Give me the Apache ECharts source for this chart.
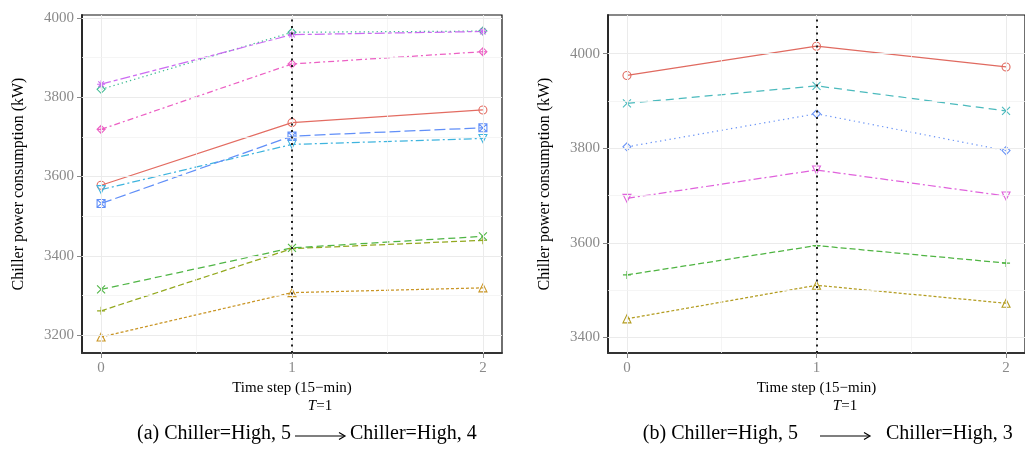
<!DOCTYPE html>
<html>
<head>
<meta charset="utf-8">
<script src="https://cdn.jsdelivr.net/npm/echarts@6/dist/echarts.min.js"></script>
<style>
  html, body { margin: 0; padding: 0; background: #fff; }
  #chart { width: 1025px; height: 452px; }
</style>
</head>
<body>
<div id="chart"></div>
<script>
// Time steps (15-min)
const timeSteps = [0, 1, 2];

// Panel (a): Chiller=High, 5 -> Chiller=High, 4
const seriesA1 = [3578, 3736, 3768];
const seriesA2 = [3195, 3307, 3319];
const seriesA3 = [3261, 3418, 3439];
const seriesA4 = [3315, 3420, 3449];
const seriesA5 = [3820, 3964, 3967];
const seriesA6 = [3567, 3681, 3696];
const seriesA7 = [3532, 3702, 3723];
const seriesA8 = [3833, 3958, 3966];
const seriesA9 = [3719, 3884, 3915];

// Panel (b): Chiller=High, 5 -> Chiller=High, 3
const seriesB1 = [3954, 4016, 3972];
const seriesB2 = [3439, 3510, 3472];
const seriesB3 = [3532, 3594, 3557];
const seriesB4 = [3895, 3932, 3879];
const seriesB5 = [3803, 3873, 3795];
const seriesB6 = [3694, 3754, 3699];

// Tick labels
const xTicks = [0, 1, 2];
const yTicksA = [3200, 3400, 3600, 3800, 4000];
const yTicksB = [3400, 3600, 3800, 4000];
// Minor grid positions
const xMinor = [0.5, 1.5];
const yMinorA = [3300, 3500, 3700, 3900];
const yMinorB = [3500, 3700, 3900];
// Transition time step
const transitionStep = 1;

// Marker outlines
const SYM = {
  circle: 'path://M0 5A5 5 0 1 0 10 5A5 5 0 1 0 0 5Z',
  triangle: 'path://M5 0L10 8.66L0 8.66Z',
  triangleDown: 'path://M0 0L10 0L5 8.66Z',
  plus: 'path://M0 5H10M5 0V10',
  cross: 'path://M0 0L10 10M10 0L0 10',
  diamond: 'path://M5 0L10 5L5 10L0 5Z',
  squareCross: 'path://M0 0H10V10H0ZM0 0L10 10M10 0L0 10',
  asterisk: 'path://M0 5H10M5 0V10M1.5 1.5L8.5 8.5M8.5 1.5L1.5 8.5',
  diamondPlus: 'path://M5 0L10 5L5 10L0 5ZM5 0V10M0 5H10'
};

const FONT = '"Liberation Serif", "DejaVu Serif", serif';

function lineSeries(values, gridIndex, color, symbol, dash) {
  return {
    type: 'line',
    xAxisIndex: gridIndex,
    yAxisIndex: gridIndex,
    data: timeSteps.map((t, i) => [t, values[i]]),
    symbol: symbol,
    symbolSize: 8,
    showSymbol: true,
    lineStyle: { color: color, width: 1.25, type: dash },
    itemStyle: { color: 'rgba(0,0,0,0)', borderColor: color, borderWidth: 1.1 },
    emphasis: { disabled: true },
    z: 3
  };
}

function gridHelper(gridIndex, yMajor, yMinor) {
  const major = { color: '#ebebeb', width: 1, type: 'solid' };
  const minor = { color: '#f3f3f3', width: 0.8, type: 'solid' };
  const data = [];
  xTicks.forEach(v => data.push({ xAxis: v, lineStyle: major }));
  xMinor.forEach(v => data.push({ xAxis: v, lineStyle: minor }));
  yMajor.forEach(v => data.push({ yAxis: v, lineStyle: major }));
  yMinor.forEach(v => data.push({ yAxis: v, lineStyle: minor }));
  return {
    type: 'line', xAxisIndex: gridIndex, yAxisIndex: gridIndex, data: [],
    z: 1, silent: true,
    markLine: { silent: true, symbol: 'none', label: { show: false }, animation: false, data: data }
  };
}

function transitionLine(gridIndex) {
  return {
    type: 'line', xAxisIndex: gridIndex, yAxisIndex: gridIndex, data: [],
    z: 5, silent: true,
    markLine: {
      silent: true, symbol: 'none', label: { show: false }, animation: false,
      lineStyle: { color: '#222', width: 2, type: [2, 4.5] },
      data: [{ xAxis: transitionStep }]
    }
  };
}

function xAxisFor(gridIndex) {
  return {
    type: 'value', gridIndex: gridIndex, min: -0.1, max: 2.1,
    name: 'Time step (15\u2212min)', nameLocation: 'middle', nameGap: 24,
    nameTextStyle: { fontFamily: FONT, fontSize: 15, color: '#000' },
    axisLine: { show: true, onZero: false, lineStyle: { color: '#333', width: 1.8 } },
    axisTick: { show: true, length: 5, customValues: xTicks, lineStyle: { color: '#888' } },
    axisLabel: { customValues: xTicks, margin: 8, fontFamily: FONT, fontSize: 15, color: '#8a8a8a' },
    splitLine: { show: false }
  };
}

function yAxisFor(gridIndex, min, max, ticks) {
  return {
    type: 'value', gridIndex: gridIndex, min: min, max: max,
    name: 'Chiller power consumption (kW)', nameLocation: 'middle', nameGap: 55,
    nameTextStyle: { fontFamily: FONT, fontSize: 16, color: '#000' },
    axisLine: { show: true, onZero: false, lineStyle: { color: '#222', width: 1.8 } },
    axisTick: { show: true, length: 5, customValues: ticks, lineStyle: { color: '#888' } },
    axisLabel: {
      customValues: ticks, margin: 8, fontFamily: FONT, fontSize: 15, color: '#8a8a8a',
      formatter: v => String(v)
    },
    splitLine: { show: false }
  };
}

const C9 = ['#E36C62', '#C99525', '#93A81E', '#4FB545', '#3DBB93', '#3FB4DE', '#618FF8', '#CC6CF2', '#EC60C4'];
const C6 = ['#E06A60', '#B39C20', '#4FB442', '#4BBABD', '#6A94F6', '#E062DC'];

const captionStyle = { fontFamily: FONT, fontSize: 20, fontWeight: 'normal', color: '#000' };
const overStyle = {
  fontFamily: FONT, fontSize: 15, fontWeight: 'normal', color: '#000',
  rich: { i: { fontFamily: FONT, fontSize: 15, fontStyle: 'italic', color: '#000' } }
};

function arrow(x1, x2, y) {
  return {
    type: 'group', children: [
      { type: 'line', shape: { x1: x1, y1: y, x2: x2 - 1, y2: y }, style: { stroke: '#000', lineWidth: 1.2 } },
      { type: 'polyline', shape: { points: [[x2 - 6, y - 3.5], [x2, y], [x2 - 6, y + 3.5]] }, style: { stroke: '#000', lineWidth: 1.2, fill: null } }
    ]
  };
}

const option = {
  backgroundColor: '#fff',
  animation: false,
  grid: [
    { left: 82, top: 15, width: 420, height: 338, show: true, borderColor: '#111', borderWidth: 1.2, backgroundColor: '#fff' },
    { left: 608, top: 15, width: 421, height: 338, show: true, borderColor: '#111', borderWidth: 1.2, backgroundColor: '#fff' }
  ],
  xAxis: [xAxisFor(0), xAxisFor(1)],
  yAxis: [yAxisFor(0, 3154.6, 4007.6, yTicksA), yAxisFor(1, 3366.7, 4082, yTicksB)],
  title: [
    { text: '(a) Chiller=High, 5', left: 291, top: 424, textAlign: 'right', padding: 0, textStyle: captionStyle },
    { text: 'Chiller=High, 4', left: 350, top: 424, textAlign: 'left', padding: 0, textStyle: captionStyle },
    { text: '{i|T}=1', left: 320, top: 399, textAlign: 'center', padding: 0, textStyle: overStyle },
    { text: '(b) Chiller=High, 5', left: 798, top: 424, textAlign: 'right', padding: 0, textStyle: captionStyle },
    { text: 'Chiller=High, 3', left: 886, top: 424, textAlign: 'left', padding: 0, textStyle: captionStyle },
    { text: '{i|T}=1', left: 845, top: 399, textAlign: 'center', padding: 0, textStyle: overStyle }
  ],
  graphic: [arrow(295, 345, 436), arrow(820, 870, 436)],
  series: [
    gridHelper(0, yTicksA, yMinorA),
    gridHelper(1, yTicksB, yMinorB),
    lineSeries(seriesA1, 0, C9[0], SYM.circle, 'solid'),
    lineSeries(seriesA2, 0, C9[1], SYM.triangle, [3, 2]),
    lineSeries(seriesA3, 0, C9[2], SYM.plus, [6, 3]),
    lineSeries(seriesA4, 0, C9[3], SYM.cross, [7, 4]),
    lineSeries(seriesA5, 0, C9[4], SYM.diamond, [1.3, 3]),
    lineSeries(seriesA6, 0, C9[5], SYM.triangleDown, [8, 3, 2, 3]),
    lineSeries(seriesA7, 0, C9[6], SYM.squareCross, [11, 4]),
    lineSeries(seriesA8, 0, C9[7], SYM.asterisk, [10, 3, 4, 3]),
    lineSeries(seriesA9, 0, C9[8], SYM.diamondPlus, [6, 3, 2, 3]),
    lineSeries(seriesB1, 1, C6[0], SYM.circle, 'solid'),
    lineSeries(seriesB2, 1, C6[1], SYM.triangle, [3, 2]),
    lineSeries(seriesB3, 1, C6[2], SYM.plus, [6, 3]),
    lineSeries(seriesB4, 1, C6[3], SYM.cross, [8, 5]),
    lineSeries(seriesB5, 1, C6[4], SYM.diamond, [1.3, 3.5]),
    lineSeries(seriesB6, 1, C6[5], SYM.triangleDown, [8, 3, 2, 3]),
    transitionLine(0),
    transitionLine(1)
  ]
};

const chart = echarts.init(document.getElementById('chart'), null, { renderer: 'canvas' });
chart.setOption(option);
</script>
</body>
</html>
